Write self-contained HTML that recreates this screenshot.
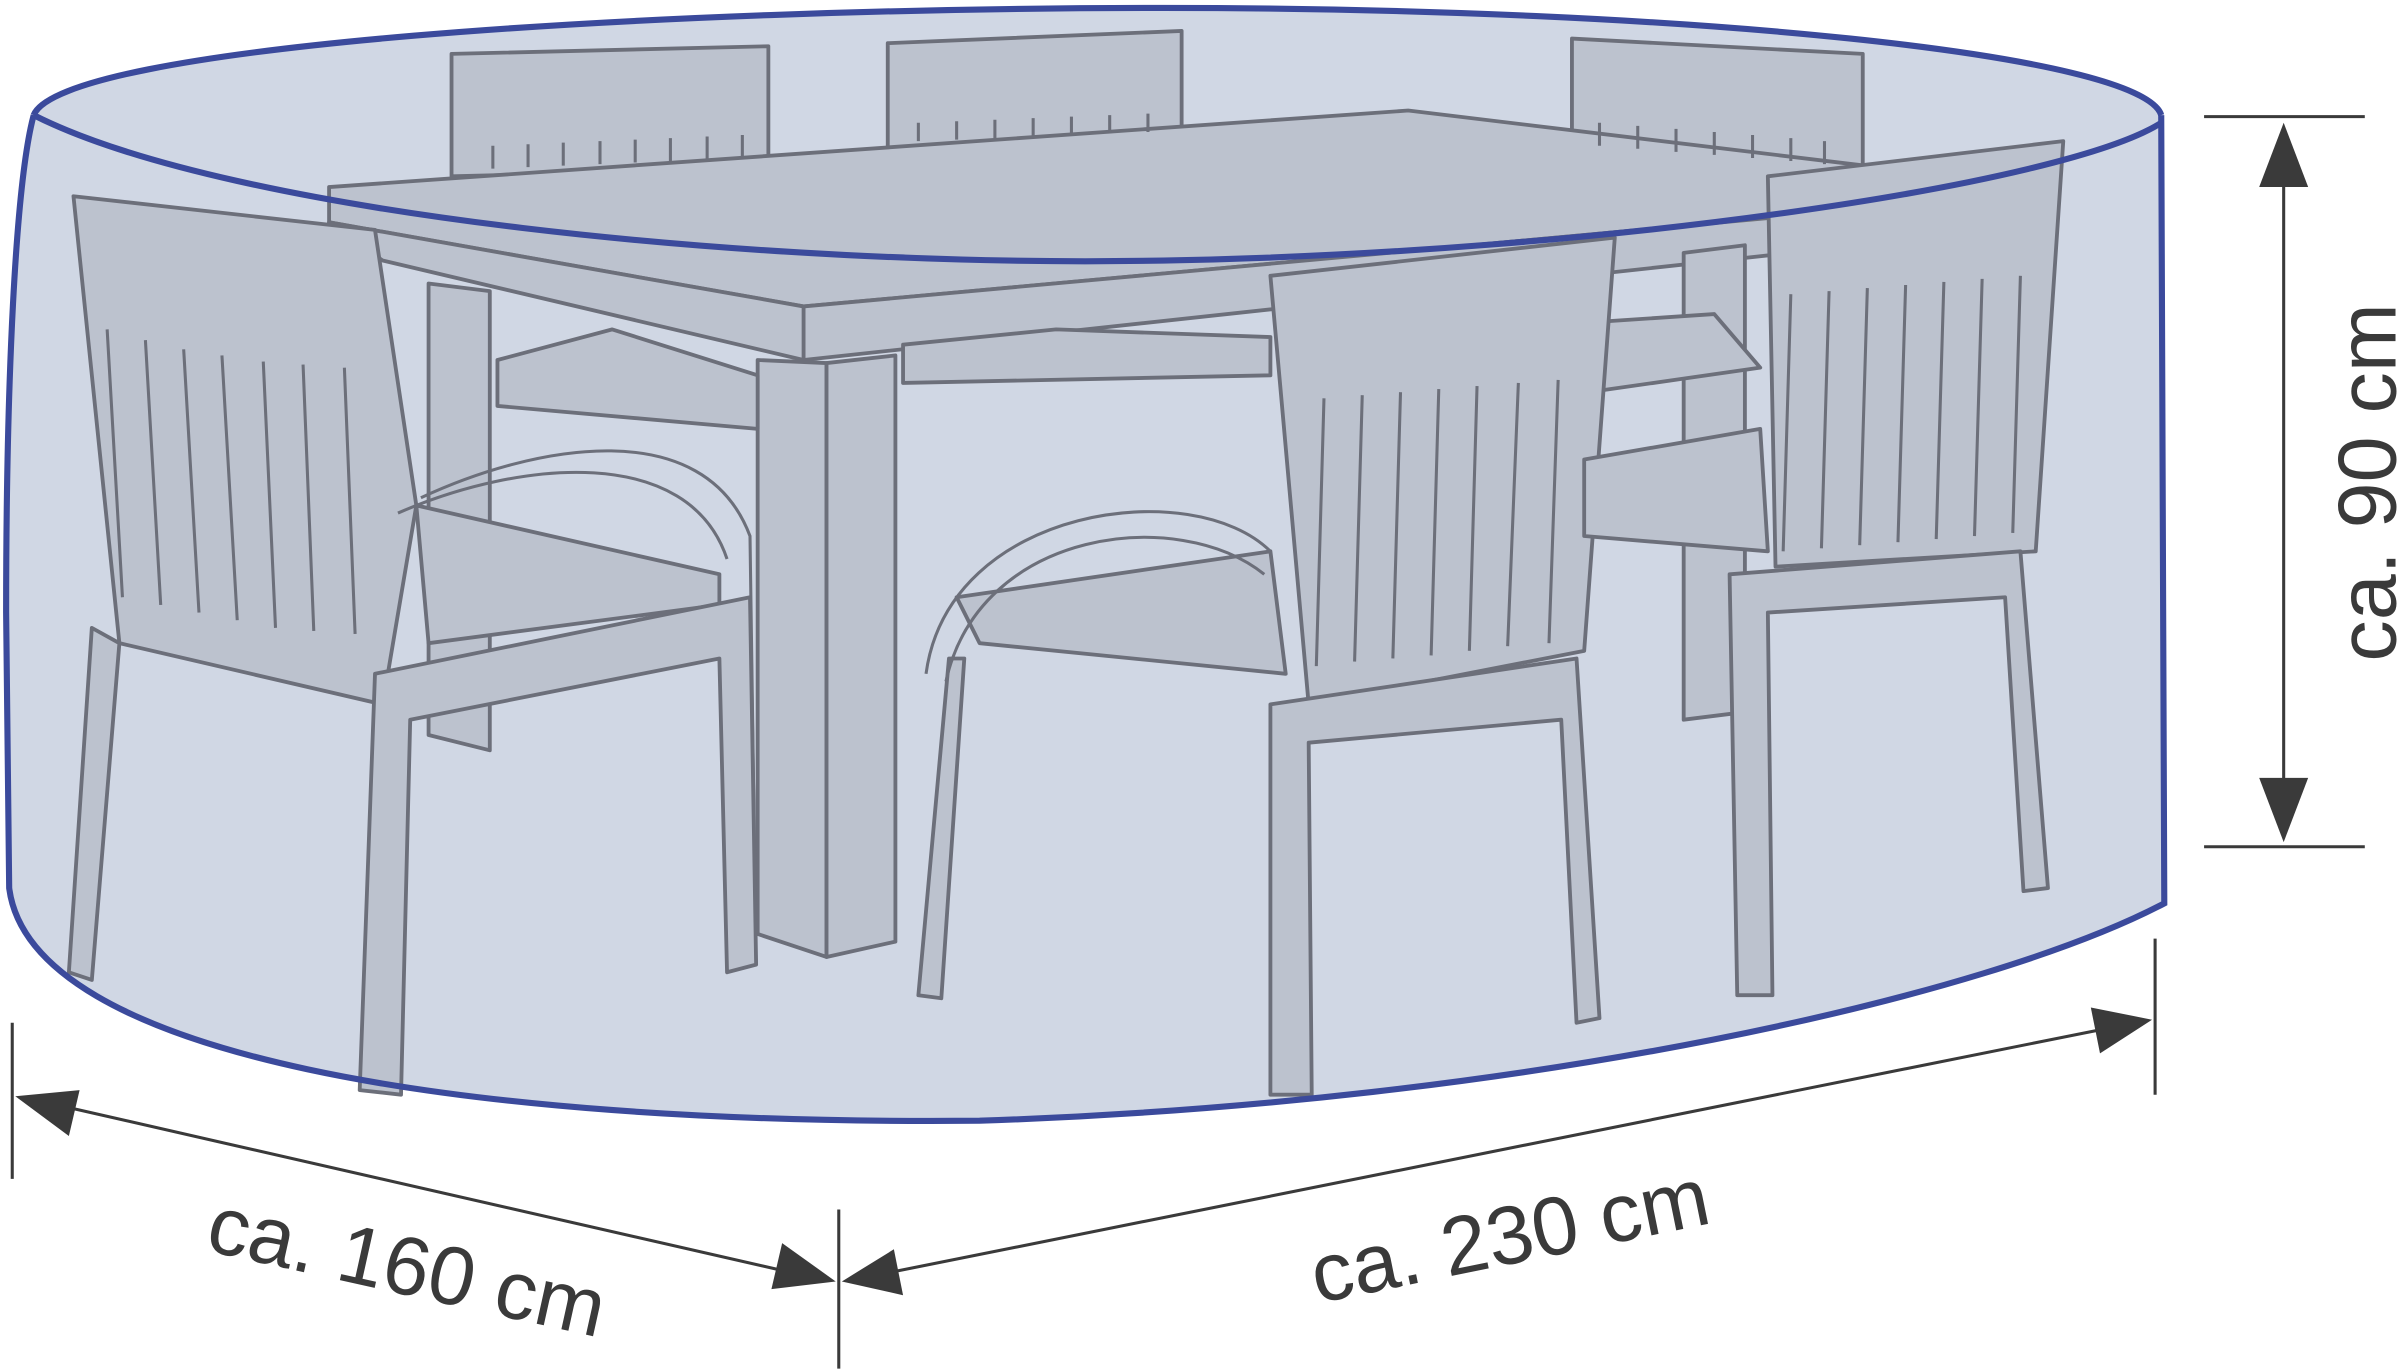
<!DOCTYPE html>
<html><head><meta charset="utf-8"><style>
html,body{margin:0;padding:0;background:#fff;width:2400px;height:1369px;overflow:hidden}
svg{display:block}
text{font-family:"Liberation Sans",sans-serif;fill:#3a3a3a}
</style></head><body>
<svg width="2400" height="1369" viewBox="0 0 1568 894" xmlns="http://www.w3.org/2000/svg">
<path d="M22,75 C40,30 420,5 760,5 C1100,5 1400,35 1412,75 L1414,590 C1300,650 1000,720 640,732 C300,735 20,690 6,580 L4,400 C4,250 10,120 22,75 Z" fill="#d0d7e4" stroke="none"/>
<g fill="#bcc2ce" stroke="#6c6f7a" stroke-width="2.5" stroke-linejoin="round">
<path d="M295,35 L502,30 L502,110 L295,115 Z"/>
<path d="M580,28 L772,20 L772,100 L580,105 Z"/>
<path d="M1027,25 L1217,35 L1217,115 L1027,110 Z"/>
<path d="M215,122 L920,72 L1235,110 L1235,135 L525,200 L215,145 Z"/>
<path d="M525,200 L1235,135 L1235,158 L525,235 Z"/>
<path d="M215,145 L525,200 L525,235 L250,170 Z"/>
<path d="M495,235 L540,237 L540,625 L495,610 Z"/>
<path d="M540,237 L585,232 L585,615 L540,625 Z"/>
<path d="M280,185 L320,190 L320,490 L280,480 Z"/>
<path d="M1100,165 L1140,160 L1140,465 L1100,470 Z"/>
<path d="M325,235 L400,215 L495,245 L495,280 L325,265 Z"/>
<path d="M590,225 L690,215 L830,220 L830,245 L590,250 Z"/>
<path d="M1045,210 L1120,205 L1150,240 L1045,255 Z"/>
<path d="M48,128 L245,150 L272,330 L250,460 L78,420 Z"/>
<path d="M272,330 L470,375 L470,395 L280,420 Z"/>
<path d="M245,440 L490,390 L494,630 L475,635 L470,430 L268,470 L262,715 L235,712 Z"/>
<path d="M78,420 L60,640 L45,635 L60,410 Z"/>
<path d="M830,180 L1055,155 L1035,425 L855,460 Z"/>
<path d="M625,390 L830,360 L840,440 L640,420 Z"/>
<path d="M830,460 L1030,430 L1045,665 L1030,668 L1020,470 L855,485 L857,715 L830,715 Z"/>
<path d="M620,430 L600,650 L615,652 L630,430 Z"/>
<path d="M1155,115 L1348,92 L1330,360 L1160,370 Z"/>
<path d="M1035,300 L1150,280 L1155,360 L1035,350 Z"/>
<path d="M1130,375 L1320,360 L1338,580 L1322,582 L1310,390 L1155,400 L1158,650 L1135,650 Z"/>
</g>
<g stroke="#6c6f7a" stroke-width="2" fill="none">
<path d="M70,215 L80,390 M95,222 L105,395 M120,228 L130,400 M145,232 L155,405 M172,236 L180,410 M198,238 L205,412 M225,240 L232,414"/>
<path d="M865,260 L860,435 M890,258 L885,432 M915,256 L910,430 M940,254 L935,428 M965,252 L960,425 M992,250 L985,422 M1018,248 L1012,420"/>
<path d="M1170,192 L1165,360 M1195,190 L1190,358 M1220,188 L1215,356 M1245,186 L1240,354 M1270,184 L1265,352 M1295,182 L1290,350 M1320,180 L1315,348"/>
<path d="M322,95 L322,110 M345,94 L345,109 M368,93 L368,108 M392,92 L392,107 M415,91 L415,106 M438,90 L438,105 M462,89 L462,104 M485,88 L485,103"/>
<path d="M600,80 L600,92 M625,79 L625,91 M650,78 L650,90 M675,77 L675,89 M700,76 L700,88 M725,75 L725,87 M750,74 L750,86"/>
<path d="M1045,80 L1045,95 M1070,82 L1070,97 M1095,84 L1095,99 M1120,86 L1120,101 M1145,88 L1145,103 M1170,90 L1170,105 M1192,92 L1192,107"/>
<path d="M275,325 C350,290 460,270 490,350 L494,630 M260,335 C340,300 450,290 475,365"/>
<path d="M605,440 C620,330 780,310 830,360 M618,445 C640,345 770,330 826,375"/>
</g>
<g fill="none" stroke="#3b4a9c" stroke-width="4">
<path d="M22,75 C40,30 420,5 760,5 C1100,5 1400,35 1412,75"/>
<path d="M22,75 C150,140 500,175 760,170 C1050,165 1350,120 1412,80"/>
<path d="M22,75 C10,120 4,250 4,400 L6,580 C20,690 300,735 640,732 C1000,720 1300,650 1414,590 L1412,75"/>
</g>
<g stroke="#3a3a3a" stroke-width="2" fill="none">
<path d="M1440,76 L1545,76 M1440,553 L1545,553 M1492,100 L1492,530"/>
<path d="M8,668 L8,770 M548,790 L548,894 M1408,613 L1408,715"/>
<path d="M30,720 L525,833 M572,833 L1385,670"/>
</g>
<g fill="#3a3a3a">
<path d="M1492,80 L1476,122 L1508,122 Z"/>
<path d="M1492,550 L1476,508 L1508,508 Z"/>
<path d="M10,716 L52,712 L45,742 Z"/>
<path d="M546,837 L504,842 L511,812 Z"/>
<path d="M550,837 L590,846 L584,816 Z"/>
<path d="M1406,666 L1366,658 L1372,688 Z"/>
</g>
<text x="0" y="0" font-size="54" text-anchor="middle" transform="translate(1565,315) rotate(-90)">ca. 90 cm</text>
<text x="0" y="0" font-size="54" text-anchor="middle" transform="translate(262,845) rotate(12.5)">ca. 160 cm</text>
<text x="0" y="0" font-size="54" text-anchor="middle" transform="translate(990,825) rotate(-11.5)">ca. 230 cm</text>
</svg>
</body></html>
